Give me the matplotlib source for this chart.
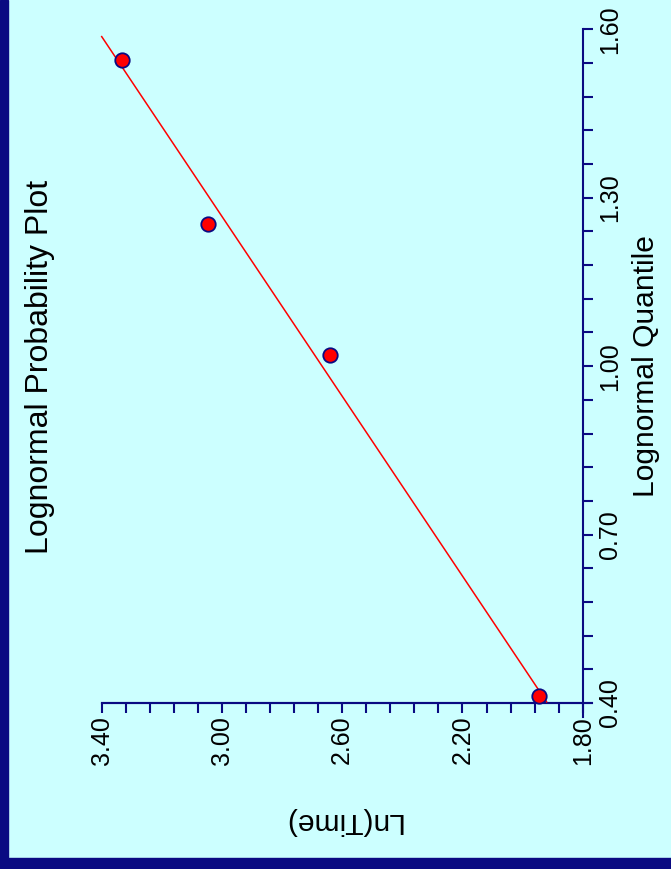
import matplotlib
matplotlib.use("Agg")
import matplotlib.pyplot as plt
import numpy as np
from matplotlib.patches import Rectangle

# Observed points: lognormal quantile vs ln(time)
quantile = [1.545, 1.253, 1.020, 0.412]
ln_time = [3.332, 3.046, 2.640, 1.945]

# Fitted line endpoints
fit_quantile = [0.402, 1.587]
fit_ln_time = [1.920, 3.400]

# Axis ticks
ln_major = [3.40, 3.00, 2.60, 2.20, 1.80]
q_major = [0.40, 0.70, 1.00, 1.30, 1.60]

NAVY = "#0a0a82"
PANEL = "#ccffff"
FONT = "Liberation Sans"
TICK_FONT = ["Liberation Sans Narrow", "Liberation Sans"]

plt.rcParams["font.family"] = [FONT, "DejaVu Sans"]

W, H = 671, 869
fig = plt.figure(figsize=(W / 100, H / 100), dpi=100, facecolor=PANEL)

# dark frame on the left and bottom edges
fig.patches.append(Rectangle((0, 0), 8 / W, 1, transform=fig.transFigure,
                             color=NAVY, zorder=0))
fig.patches.append(Rectangle((0, 0), 1, 11.5 / H, transform=fig.transFigure,
                             color=NAVY, zorder=0))

# the chart is laid out turned on its side: ln(time) runs along the bottom
# (decreasing to the right), the quantile axis stands on the right
left, right = 101.7 / W, 582.7 / W
bottom, top = 1 - 703 / H, 1 - 29.3 / H
ax = fig.add_axes([left, bottom, right - left, top - bottom])
ax.set_facecolor("none")

ax.plot(fit_ln_time, fit_quantile, color="red", lw=1.1, zorder=3, clip_on=False)
ax.plot(ln_time, quantile, "o", ms=10.4, mfc="red", mec=NAVY, mew=1.3,
        zorder=4, clip_on=False)

ax.set_xlim(3.40, 1.80)
ax.set_ylim(0.40, 1.60)

for side in ["top", "left"]:
    ax.spines[side].set_visible(False)
for side in ["bottom", "right"]:
    ax.spines[side].set_color(NAVY)
    ax.spines[side].set_linewidth(1.5)

# small overshoot where the two axis lines meet
ax.plot([0, 1.019], [0, 0], transform=ax.transAxes, color=NAVY, lw=1.5,
        clip_on=False, zorder=2)
ax.plot([1, 1], [0, -0.021], transform=ax.transAxes, color=NAVY, lw=1.5,
        clip_on=False, zorder=2)

ax.yaxis.tick_right()
ln_minor = np.linspace(ln_major[0], ln_major[-1], 21)
q_minor = np.linspace(q_major[0], q_major[-1], 21)
ax.set_xticks(ln_minor, minor=True)
ax.set_yticks(q_minor, minor=True)
ax.set_xticks(ln_major, [f"{v:.2f}" for v in ln_major])
ax.set_yticks(q_major, [f"{v:.2f}" for v in q_major])

ax.tick_params(axis="both", which="both", direction="out", length=7.2,
               width=1.5, color=NAVY, labelcolor="black")
ax.tick_params(axis="x", which="major", pad=2)
ax.tick_params(axis="y", which="major", pad=4)

for lab in ax.get_xticklabels():
    lab.set_family(TICK_FONT)
    lab.set_fontsize(18)
    lab.set_rotation(90)
    lab.set_ha("center")
    lab.set_va("top")
for lab in ax.get_yticklabels():
    lab.set_family(TICK_FONT)
    lab.set_fontsize(18)
    lab.set_rotation(90)
    lab.set_ha("left")
    lab.set_va("center")

fig.text(40 / W, 1 - 367 / H, "Lognormal Probability Plot", rotation=90,
         fontsize=23, ha="center", va="center")
fig.text(646 / W, 1 - 366 / H, "Lognormal Quantile", rotation=90,
         fontsize=21.6, ha="center", va="center")
fig.text(342 / W, 1 - 821 / H, "Ln(Time)", rotation=180,
         fontsize=21.6, ha="center", va="center")

fig.savefig("out.png", dpi=100, facecolor=PANEL)
